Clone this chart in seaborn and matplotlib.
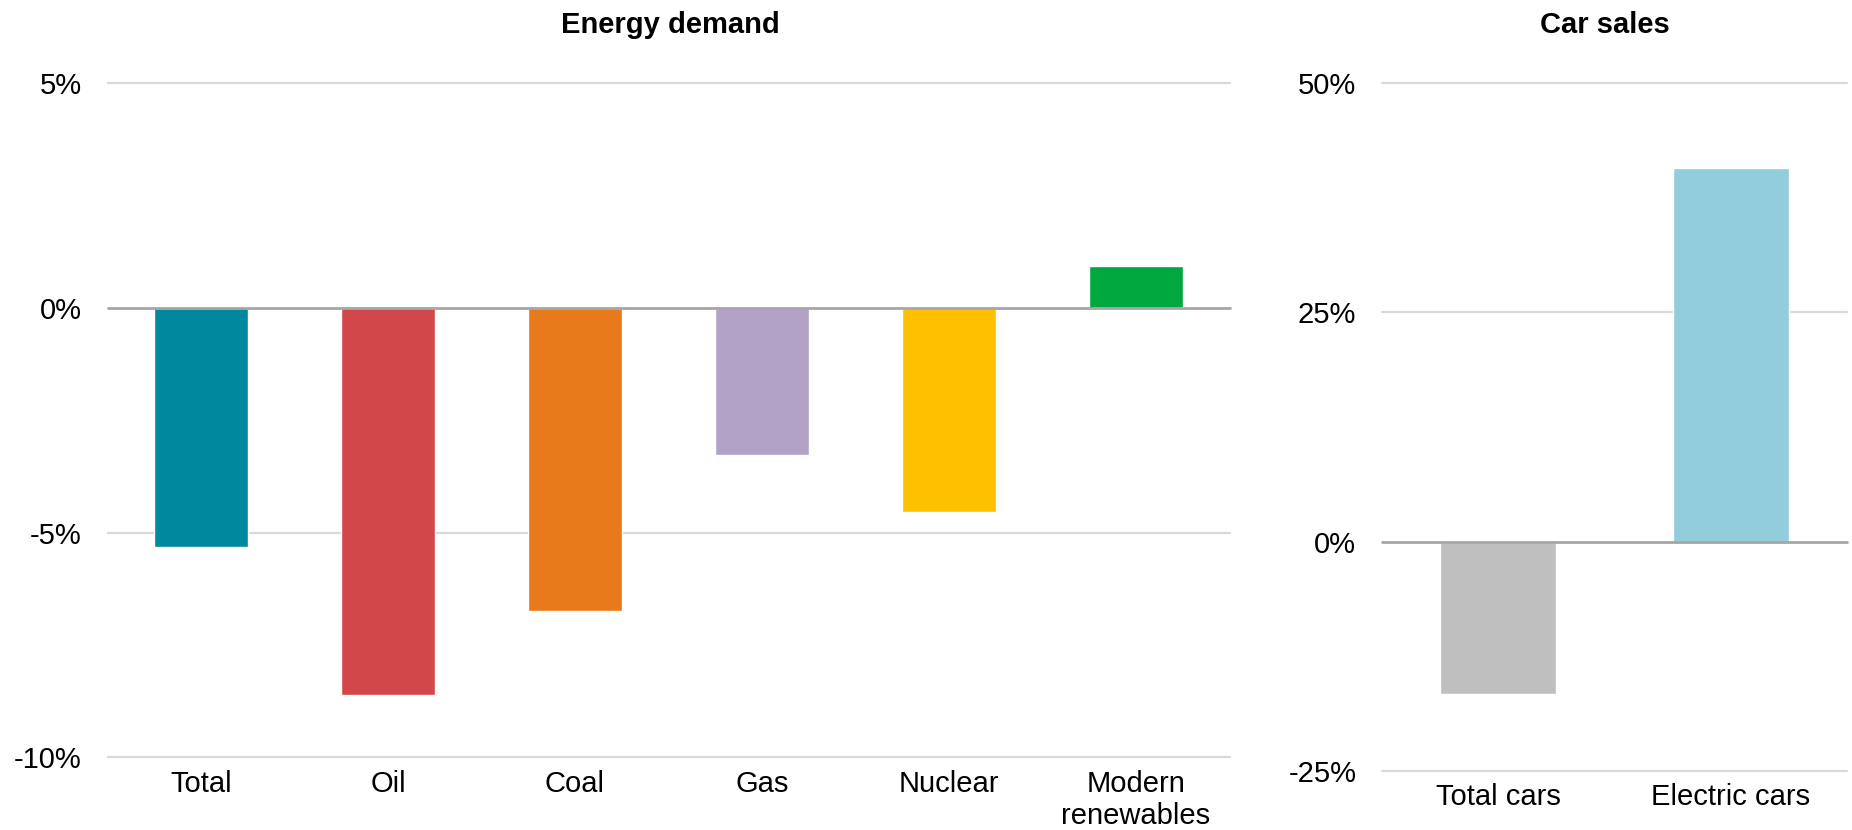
import matplotlib
matplotlib.use("Agg")
import matplotlib.pyplot as plt
import seaborn as sns
import numpy as np

# Data
energy_categories = ["Total", "Oil", "Coal", "Gas", "Nuclear", "Modern\nrenewables"]
energy_values = [-5.33, -8.61, -6.74, -3.27, -4.55, 0.93]
energy_colors = ["#00889E", "#D1474A", "#E87A1C", "#B2A2C7", "#FFC000", "#00A83F"]

car_categories = ["Total cars", "Electric cars"]
car_values = [-16.6, 40.8]
car_colors = ["#BFBFBF", "#92CDDC"]

energy_ticks = [-10, -5, 0, 5]
car_ticks = [-25, 0, 25, 50]

sns.set_theme(style="white")
plt.rcParams["font.family"] = ["Liberation Sans", "DejaVu Sans"]

W, H = 1852, 830
fig = plt.figure(figsize=(W / 100, H / 100), dpi=100)

axL = fig.add_axes([107.5 / W, 1 - 757.3 / H, 1122 / W, 674 / H])
axR = fig.add_axes([1382 / W, 1 - 770.7 / H, 465 / W, 687.4 / H])

FS = 21


def style(ax, cats, vals, colors, ticks):
    sns.barplot(x=cats, y=vals, hue=cats, palette=colors, width=0.5,
                saturation=1, legend=False, ax=ax, zorder=2)
    ax.set_xlim(-0.5, len(cats) - 0.5)
    ax.set_ylim(ticks[0], ticks[-1])
    ax.set_yticks(ticks)
    ax.set_yticklabels([f"{t}%" for t in ticks])
    ax.tick_params(axis="y", length=0, pad=18.5, labelsize=FS, colors="black")
    ax.tick_params(axis="x", length=0, pad=9, labelsize=FS, colors="black")
    for s in ax.spines.values():
        s.set_visible(False)
    ax.grid(False)
    for t in ticks:
        if t != 0:
            ax.axhline(t, color="#D9D9D9", lw=1.6, zorder=1, clip_on=False)
    ax.axhline(0, color="#A6A6A6", lw=2.0, zorder=3, clip_on=False)
    ax.set_xlabel("")
    ax.set_ylabel("")
    for lab in ax.get_xticklabels():
        lab.set_linespacing(1.2)


style(axL, energy_categories, energy_values, energy_colors, energy_ticks)
style(axR, car_categories, car_values, car_colors, car_ticks)

fig.text(670 / W, 1 - 32.7 / H, "Energy demand", ha="center", va="baseline",
         fontsize=FS, fontweight="bold", color="black")
fig.text(1605 / W, 1 - 32.7 / H, "Car sales", ha="center", va="baseline",
         fontsize=FS, fontweight="bold", color="black")

fig.savefig("out.png", dpi=100, facecolor="white")
